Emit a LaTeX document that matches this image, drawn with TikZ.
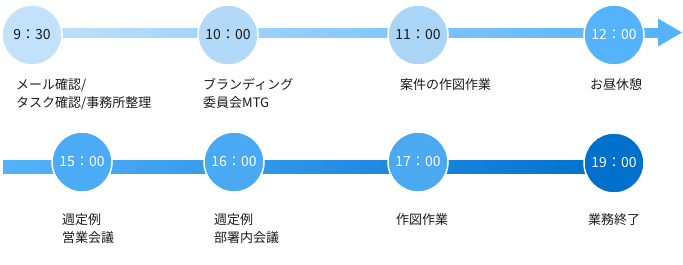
\documentclass[tikz,border=0pt]{standalone}
\usepackage{fontspec}
\setmainfont{Noto Sans CJK JP}
\usetikzlibrary{arrows.meta,positioning,calc,backgrounds}
\definecolor{ca}{HTML}{C2E2FB}
\definecolor{cb}{HTML}{B2D9F7}
\definecolor{cc}{HTML}{AAD5F7}
\definecolor{cd}{HTML}{55B3FB}
\definecolor{ce}{HTML}{4BABF5}
\definecolor{cf}{HTML}{4AA9F3}
\definecolor{cg}{HTML}{4BA9F2}
\definecolor{ch}{HTML}{0070CD}
\definecolor{txt}{HTML}{1A1A1A}
\tikzset{
  tm/.style = {circle, draw=white, line width=1.5pt, minimum size=60pt, inner sep=0pt, font=\fontsize{14}{14}\selectfont},
  lbl/.style = {anchor=north west, align=left, inner sep=0pt, text=txt, font=\fontsize{13}{18.5}\selectfont},
  bar/.style = {draw=none}
}
\begin{document}
\begin{tikzpicture}[x=1pt, y={(0pt,-1pt)}]
            \useasboundingbox (0,0) rectangle (683,265);
            % morning
            \node[tm, fill=ca, text=txt] (t930) at (32,35) {9：30};
            \node[tm, fill=cb, text=txt] (t1000) at (228,35) {10：00};
            \node[tm, fill=cc, text=txt] (t1100) at (418,35) {11：00};
            \node[tm, fill=cd, text=white] (t1200) at (614,35) {12：00};
            \coordinate (head) at (658,32.5);
            \coordinate (tip) at (682,32.5);
            % afternoon
            \node[tm, fill=ce, text=white] (t1500) at (82,162) {15：00};
            \node[tm, fill=cf, text=white] (t1600) at (234,162) {16：00};
            \node[tm, fill=cg, text=white] (t1700) at (418,162) {17：00};
            \node[tm, fill=ch, text=white] (t1900) at (614,163) {19：00};
            \coordinate (start) at (3,166.5);
            % labels
            \node[lbl] (l930) at (16,78) {メール確認/\\タスク確認/事務所整理};
            \node[lbl] (l1000) at (203,78) {ブランディング\\委員会MTG};
            \node[lbl] (l1100) at (400,78) {案件の作図作業};
            \node[lbl] (l1200) at (590,78) {お昼休憩};
            \node[lbl] (l1500) at (62,213) {週定例\\営業会議};
            \node[lbl] (l1600) at (214,213) {週定例\\部署内会議};
            \node[lbl] (l1700) at (396,213) {作図作業};
            \node[lbl] (l1900) at (588,213) {業務終了};
            \begin{scope}[on background layer]
              \fill[bar, left color=ca!95!cc, right color=cd] ($(t930.center)+(0,-7)$) rectangle ($(head)+(0,4.5)$);
              \fill[bar, cd] ($(head)+(0,-14)$) -- (tip) -- ($(head)+(0,14)$) -- cycle;
              \fill[bar, left color=cd, right color=ch] ($(start)+(0,-6.5)$) rectangle ($(t1900.center |- start)+(0,6.5)$);
            \end{scope}
        \end{tikzpicture}
\end{document}
